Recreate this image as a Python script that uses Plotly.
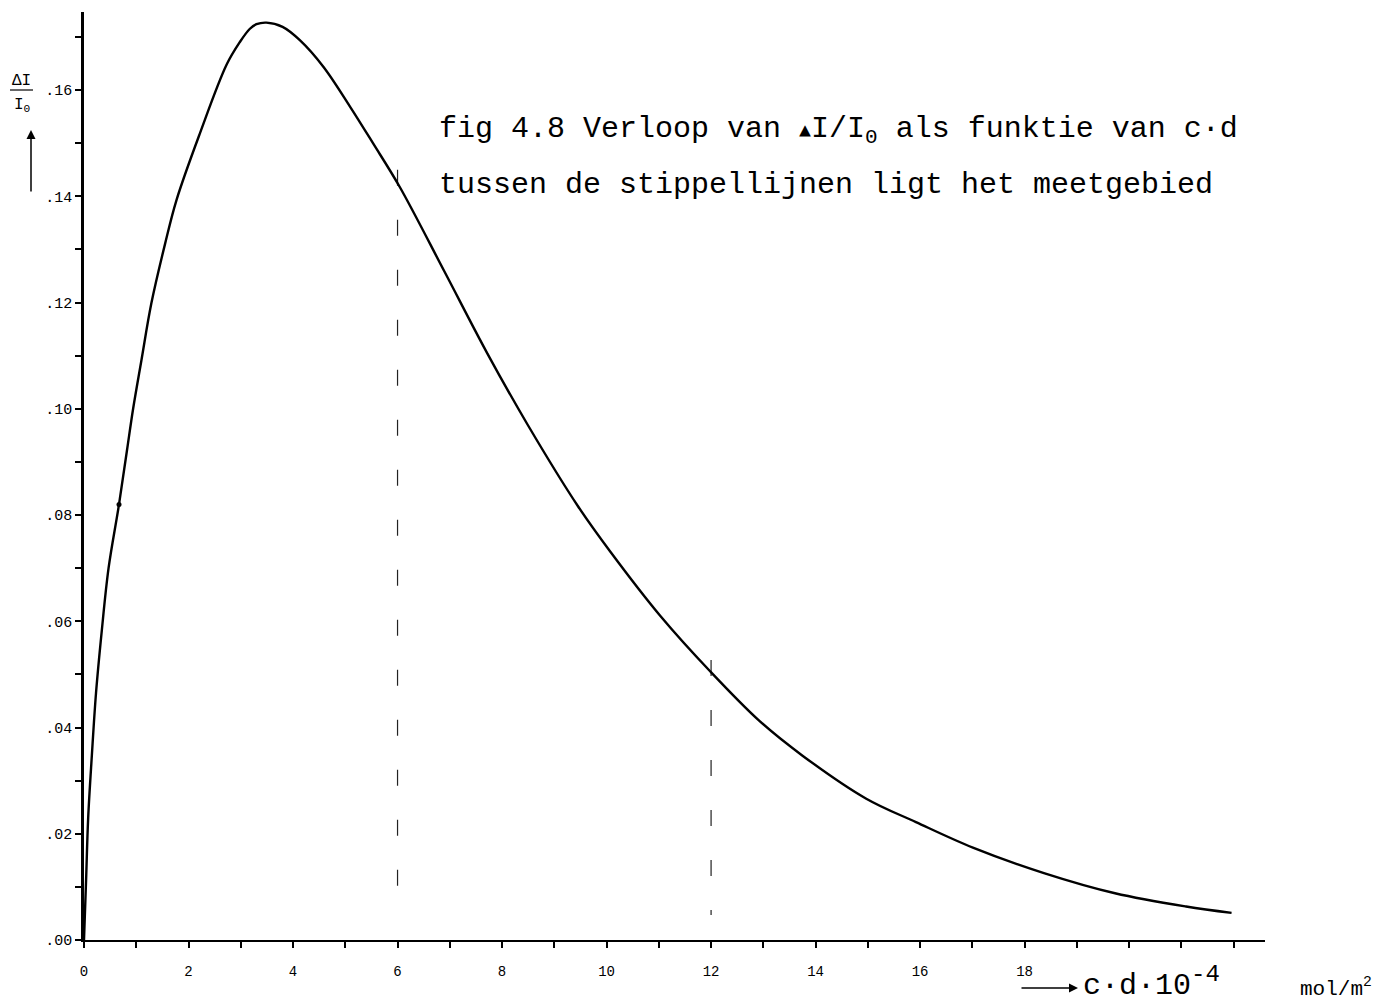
import plotly.graph_objects as go

# ---- data ----
cd = [0.0, 0.04, 0.08, 0.15, 0.23, 0.34, 0.47, 0.67, 0.82, 0.94, 1.10, 1.29, 1.55,
      1.77, 2.22, 2.73, 2.98, 3.17, 3.30, 3.49, 3.80, 4.13, 4.58, 5.09, 5.53, 6.04,
      6.90, 7.72, 8.49, 9.45, 10.08, 11.03, 11.99, 12.93, 13.75, 14.97, 15.92,
      17.01, 18.37, 19.73, 21.09, 21.96]
dI = [0.0, 0.0113, 0.0230, 0.0347, 0.0465, 0.0582, 0.0700, 0.0820, 0.0920, 0.1000,
      0.1092, 0.1199, 0.1310, 0.1393, 0.1519, 0.1648, 0.1690, 0.1715, 0.1724,
      0.1727, 0.1719, 0.1694, 0.1644, 0.1569, 0.1500, 0.1418, 0.1258, 0.1104,
      0.0970, 0.0817, 0.0730, 0.0610, 0.0505, 0.0412, 0.0347, 0.0266, 0.0222,
      0.0174, 0.0126, 0.0088, 0.0063, 0.0051]

dot_x = [0.67]
dot_y = [0.0820]

meet_x = [6, 12]
meet_bottom = [0.0038, 0.0047]
meet_top = [0.1450, 0.0527]

x_tickvals = [0, 2, 4, 6, 8, 10, 12, 14, 16, 18]
x_ticktext = ["0", "2", "4", "6", "8", "10", "12", "14", "16", "18"]
y_tickvals = [0.00, 0.02, 0.04, 0.06, 0.08, 0.10, 0.12, 0.14, 0.16]
y_ticktext = [".00", ".02", ".04", ".06", ".08", ".10", ".12", ".14", ".16"]

# ---- layout geometry ----
W, H = 1380, 1004
L, R, T, B = 84, 115, 12, 64
PW, PH = W - L - R, H - T - B


def px(xpix):
    return (xpix - L) / PW


def py(ypix):
    return (H - B - ypix) / PH


MONO = "Liberation Mono"

fig = go.Figure()

for xv, yb, yt in zip(meet_x, meet_bottom, meet_top):
    fig.add_trace(go.Scatter(
        x=[xv, xv], y=[yt, yb], mode="lines",
        line=dict(color="#222", width=1.2, dash="16px,34px"),
        hoverinfo="skip", showlegend=False))

fig.add_trace(go.Scatter(
    x=cd, y=dI, mode="lines",
    line=dict(color="black", width=2.4, shape="spline", smoothing=1.0),
    showlegend=False))

fig.add_trace(go.Scatter(
    x=dot_x, y=dot_y, mode="markers",
    marker=dict(color="black", size=5), showlegend=False))

fig.update_xaxes(
    range=[0, 22.6], showgrid=False, zeroline=False,
    showline=True, linecolor="black", linewidth=2,
    ticks="outside", ticklen=6, tickwidth=2, tickcolor="black",
    tickvals=x_tickvals, ticktext=x_ticktext,
    minor=dict(dtick=1, tick0=0, ticks="outside", ticklen=6, tickwidth=2,
               tickcolor="black"),
    ticklabelstandoff=11,
    tickfont=dict(family=MONO, size=14, color="black"))

fig.update_yaxes(
    range=[0, 0.1747], showgrid=False, zeroline=False,
    showline=True, linecolor="black", linewidth=2.5,
    ticks="outside", ticklen=6, tickwidth=2, tickcolor="black",
    tickvals=y_tickvals, ticktext=y_ticktext,
    minor=dict(dtick=0.01, tick0=0, ticks="outside", ticklen=6, tickwidth=2,
               tickcolor="black"),
    tickfont=dict(family=MONO, size=15, color="black"))

annotations = [
    dict(x=px(437), y=py(130), xref="paper", yref="paper", xanchor="left",
         yanchor="middle", showarrow=False,
         text="fig 4.8 Verloop van <span style='font-size:20px'>▲</span>I/I<sub>0</sub> als funktie van c·d",
         font=dict(family=MONO, size=30, color="black")),
    dict(x=px(437), y=py(185), xref="paper", yref="paper", xanchor="left",
         yanchor="middle", showarrow=False,
         text="tussen de stippellijnen ligt het meetgebied",
         font=dict(family=MONO, size=30, color="black")),
    # y-axis label
    dict(x=px(21), y=py(81), xref="paper", yref="paper", xanchor="center",
         yanchor="middle", showarrow=False, text="ΔI",
         font=dict(family=MONO, size=16, color="black")),
    dict(x=px(22), y=py(105), xref="paper", yref="paper", xanchor="center",
         yanchor="middle", showarrow=False, text="I<sub>0</sub>",
         font=dict(family=MONO, size=16, color="black")),
    dict(x=px(31), y=py(130), xref="paper", yref="paper", text="",
         showarrow=True, ax=0, ay=63, arrowhead=2, arrowsize=1.2,
         arrowwidth=1.5, arrowcolor="black"),
    # x-axis label
    dict(x=px(1078), y=py(988), xref="paper", yref="paper", text="",
         showarrow=True, ax=-58, ay=0, arrowhead=2, arrowsize=1.2,
         arrowwidth=1.5, arrowcolor="black"),
    dict(x=px(1081), y=py(982), xref="paper", yref="paper", xanchor="left",
         yanchor="middle", showarrow=False,
         text="c·d·10<sup><span style='font-size:24px'>-4</span></sup>",
         font=dict(family=MONO, size=30, color="black")),
    dict(x=px(1298), y=py(987), xref="paper", yref="paper", xanchor="left",
         yanchor="middle", showarrow=False, text="mol/m<sup>2</sup>",
         font=dict(family=MONO, size=21, color="black")),
]

fig.update_layout(
    width=W, height=H,
    margin=dict(l=L, r=R, t=T, b=B, pad=0),
    paper_bgcolor="white", plot_bgcolor="white",
    showlegend=False,
    annotations=annotations,
    shapes=[dict(type="line", xref="paper", yref="paper",
                 x0=px(10), x1=px(33), y0=py(90), y1=py(90),
                 line=dict(color="black", width=1.2))],
)

fig.write_html("out.html",
               config={"displayModeBar": False},
               post_script="document.body.style.margin='0px';document.body.style.overflow='hidden';")
